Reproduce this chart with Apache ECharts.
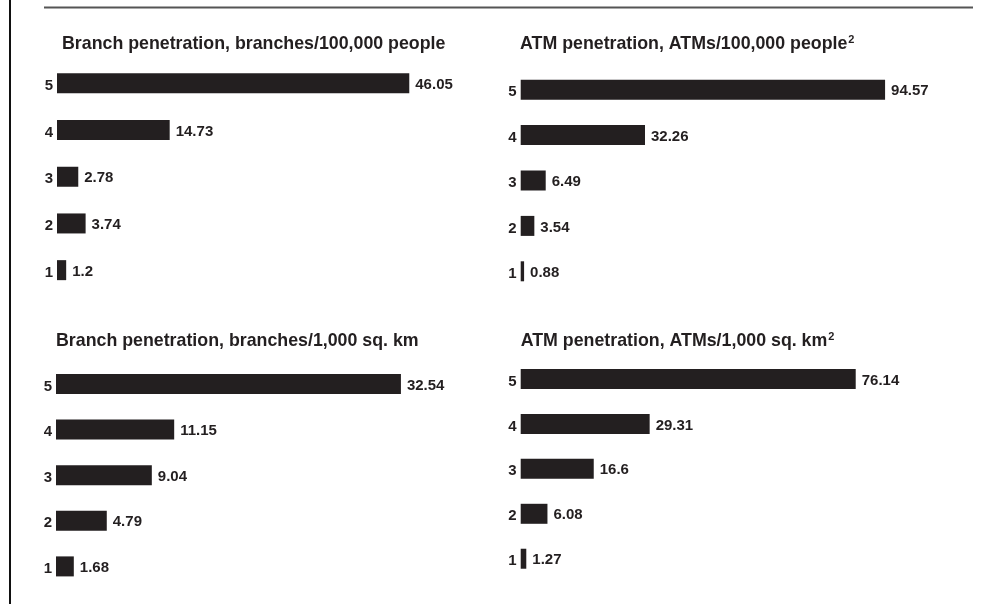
<!DOCTYPE html>
<html>
<head>
<meta charset="utf-8">
<script src="https://cdn.jsdelivr.net/npm/echarts@6/dist/echarts.min.js"></script>
<style>
html,body{margin:0;padding:0;background:#fff;}
#chart{width:991px;height:604px;}
</style>
</head>
<body>
<div id="chart"></div>
<script>
var categories = ['1', '2', '3', '4', '5'];
var branchesPerPeople = [1.2, 3.74, 2.78, 14.73, 46.05];
var atmsPerPeople = [0.88, 3.54, 6.49, 32.26, 94.57];
var branchesPerArea = [1.68, 4.79, 9.04, 11.15, 32.54];
var atmsPerArea = [1.27, 6.08, 16.6, 29.31, 76.14];
var panelTitles = [
  'Branch penetration, branches/100,000 people',
  'ATM penetration, ATMs/100,000 people{sup|2}',
  'Branch penetration, branches/1,000 sq. km',
  'ATM penetration, ATMs/1,000 sq. km{sup|2}'
];

var FONT = '"Liberation Sans", Arial, Helvetica, sans-serif';
var INK = '#231f20';

var grids = [
  {left: 57, top: 60, width: 382.5, height: 233.5},
  {left: 520.7, top: 67, width: 385.3, height: 227},
  {left: 56, top: 361.2, width: 371, height: 228},
  {left: 520.7, top: 356.5, width: 352, height: 224.7}
];
var maxes = [50, 100, 35, 80];
var seriesData = [branchesPerPeople, atmsPerPeople, branchesPerArea, atmsPerArea];
var titlePos = [
  {left: 62, top: 34},
  {left: 520, top: 34},
  {left: 56, top: 331},
  {left: 520.7, top: 331}
];

var option = {
  animation: false,
  backgroundColor: '#fff',
  title: panelTitles.map(function (t, i) {
    return {
      text: t,
      left: titlePos[i].left,
      top: titlePos[i].top,
      padding: 0,
      textStyle: {
        fontFamily: FONT, fontSize: 17.8, fontWeight: 'bold', color: INK, lineHeight: 20,
        rich: {
          sup: {fontFamily: FONT, fontSize: 11, fontWeight: 'bold', color: INK, lineHeight: 20, verticalAlign: 'top', padding: [0, 0, 0, 1]}
        }
      }
    };
  }),
  grid: grids,
  xAxis: grids.map(function (g, i) {
    return {
      type: 'value', gridIndex: i, min: 0, max: maxes[i],
      show: false, splitLine: {show: false}
    };
  }),
  yAxis: grids.map(function (g, i) {
    return {
      type: 'category', gridIndex: i, data: categories,
      axisLine: {show: false}, axisTick: {show: false}, splitLine: {show: false},
      axisLabel: {
        margin: 4, color: INK,
        formatter: function (v) { return '{c|' + v + '}'; },
        rich: {c: {fontFamily: FONT, fontSize: 15, fontWeight: 'bold', color: INK, padding: [5, 0, 0, 0]}}
      }
    };
  }),
  series: seriesData.map(function (d, i) {
    return {
      type: 'bar', xAxisIndex: i, yAxisIndex: i, data: d,
      barWidth: 20,
      itemStyle: {color: INK},
      label: {
        show: true, position: 'right', distance: 6, offset: [0, 1.5],
        fontFamily: FONT, fontSize: 15, fontWeight: 'bold', color: INK
      }
    };
  }),
  graphic: [
    {type: 'line', shape: {x1: 10, y1: 0, x2: 10, y2: 604}, style: {stroke: '#111', lineWidth: 2}},
    {type: 'line', shape: {x1: 44, y1: 7.5, x2: 973, y2: 7.5}, style: {stroke: '#555', lineWidth: 2}}
  ]
};

var chart = echarts.init(document.getElementById('chart'), null, {renderer: 'canvas'});
chart.setOption(option);
</script>
</body>
</html>
